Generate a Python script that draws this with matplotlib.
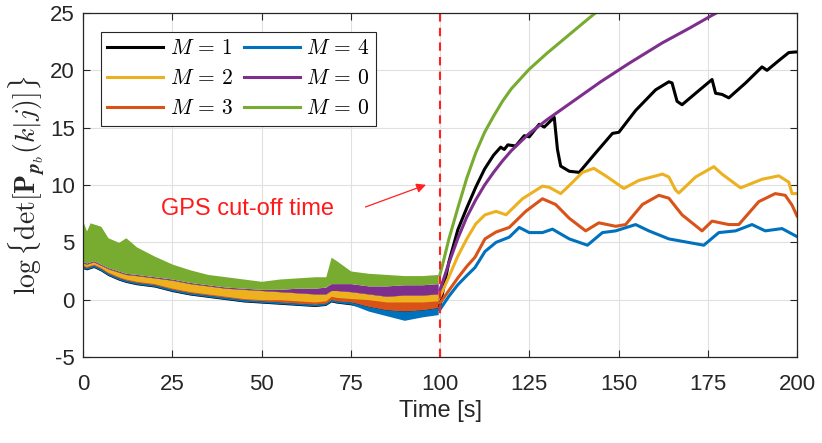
import matplotlib
matplotlib.use("Agg")
import matplotlib.pyplot as plt

# MATLAB default colours
C_BLACK = "#000000"
C_BLUE = "#0072BD"
C_ORANGE = "#D95319"
C_YELLOW = "#EDB120"
C_PURPLE = "#7E2F8E"
C_GREEN = "#77AC30"

# ---- before GPS cut-off: noisy bands, read as lower / upper envelopes ----
t_pre = [0, 1, 2, 3, 5, 7, 10, 12, 15, 20, 25, 30, 35, 40, 45, 50, 55, 60,
         65, 68, 69.5, 71, 75, 80, 85, 90, 95, 99.5]
green_hi = [6.8, 6.0, 6.7, 6.6, 6.4, 5.4, 5.0, 5.4, 4.6, 3.8, 3.1, 2.6, 2.2, 2.0,
            1.8, 1.6, 1.8, 1.9, 2.0, 2.0, 3.7, 3.4, 2.5, 2.3, 2.2, 2.1, 2.1, 2.2]
green_lo = [3.3, 3.2, 3.3, 3.4, 3.1, 2.8, 2.5, 2.3, 2.2, 2.0, 1.8, 1.5, 1.3, 1.1,
            1.0, 0.9, 0.9, 1.0, 1.0, 1.1, 1.4, 1.4, 1.4, 1.2, 1.2, 1.3, 1.3, 1.4]
purple_lo = [3.2, 3.1, 3.2, 3.3, 3.0, 2.7, 2.4, 2.2, 2.1, 1.9, 1.7, 1.4, 1.2, 1.0,
             0.9, 0.8, 0.7, 0.6, 0.5, 0.5, 0.8, 0.8, 0.7, 0.5, 0.3, 0.4, 0.4, 0.5]
yellow_lo = [3.0, 2.9, 3.0, 3.1, 2.8, 2.4, 2.0, 1.8, 1.6, 1.4, 1.0, 0.7, 0.5, 0.3,
             0.1, 0.0, 0.0, -0.1, -0.2, -0.1, 0.3, 0.2, 0.1, 0.0, -0.2, -0.2, -0.2, -0.1]
orange_lo = [2.9, 2.8, 2.9, 3.0, 2.7, 2.3, 1.9, 1.7, 1.5, 1.3, 0.9, 0.6, 0.4, 0.2,
             0.0, -0.1, -0.2, -0.3, -0.4, -0.3, 0.0, -0.1, -0.2, -0.4, -0.7, -0.6, -0.6, -0.5]
blue_hi = [2.9, 2.8, 2.9, 3.0, 2.7, 2.3, 1.9, 1.7, 1.5, 1.3, 0.9, 0.6, 0.4, 0.2,
           0.0, -0.1, -0.2, -0.3, -0.4, -0.3, 0.0, -0.1, -0.2, -0.6, -0.9, -1.0, -0.9, -0.7]
blue_lo = [2.75, 2.65, 2.75, 2.85, 2.55, 2.15, 1.75, 1.55, 1.35, 1.15, 0.75, 0.45, 0.25, 0.05,
           -0.15, -0.25, -0.35, -0.45, -0.55, -0.45, -0.15, -0.25, -0.4, -1.0, -1.4, -1.8, -1.5, -1.3]
black_lo = [2.7, 2.6, 2.7, 2.8, 2.5, 2.1, 1.7, 1.5, 1.3, 1.1, 0.7, 0.4, 0.2, 0.0,
            -0.2, -0.3, -0.4, -0.5, -0.6, -0.5, -0.2, -0.3, -0.45, -0.8, -1.1, -1.2, -1.1, -0.9]

# ---- after GPS cut-off ----
t_m1 = [100, 101, 102.5, 105, 107.5, 110, 112.5, 115, 117, 118, 119, 121.2, 123.6,
        125, 127.8, 129.2, 132, 132.9, 133.8, 136.2, 139, 143.6, 148.3, 150.1, 154.8,
        160.4, 164.1, 165, 166.4, 167.8, 171.6, 176.2, 177.2, 179, 180.9, 185.6,
        190.2, 191.6, 194.9, 197.7, 199.5, 200]
m1 = [-0.5, 1.0, 3.3, 6.1, 8.0, 9.8, 11.4, 12.6, 13.3, 13.1, 13.5, 13.4, 14.3,
      14.2, 15.3, 15.05, 15.9, 13.1, 11.65, 11.2, 11.1, 12.8, 14.5, 14.6, 16.5,
      18.3, 19.0, 18.9, 17.3, 17.0, 18.0, 19.2, 18.0, 17.9, 17.6, 18.9,
      20.3, 20.0, 20.85, 21.55, 21.6, 21.6]

t_m2 = [100, 102.5, 105, 107.5, 110, 112.6, 115.7, 118.5, 123.1, 128.7, 130.6,
        133.8, 136.2, 139.9, 143.1, 146.4, 151.5, 155.7, 162.3, 164.1, 166, 166.9,
        171.6, 176.7, 179, 184.2, 190.2, 194.9, 197.7, 198.6, 200]
m2 = [0.25, 2.0, 3.8, 5.3, 6.6, 7.4, 7.7, 7.4, 8.8, 9.9, 9.8,
      9.25, 9.95, 11.1, 11.45, 10.8, 9.7, 10.4, 10.95, 10.7, 9.55, 9.3,
      10.7, 11.6, 10.95, 9.75, 10.5, 10.8, 10.25, 9.25, 9.25]

t_m3 = [100, 102.5, 105, 107.5, 109.8, 112.6, 115.7, 119.4, 124, 128.7, 132.4,
        136.2, 140.8, 144.5, 149.2, 152, 156.7, 161.3, 164.1, 167.8, 173.4, 176.2,
        180.9, 183.7, 189.3, 193.9, 196.7, 198.6, 200]
m3 = [-0.3, 0.8, 1.9, 2.9, 3.7, 5.3, 5.9, 6.3, 7.7, 8.8, 8.3,
      7.1, 6.0, 6.7, 6.4, 6.55, 8.3, 9.1, 8.85, 7.4, 6.0, 6.85,
      6.55, 6.55, 8.55, 9.25, 9.1, 8.25, 7.3]

t_m4 = [100, 102.5, 105, 107.5, 109.8, 112.6, 115.7, 119.4, 122.2, 125, 128.7,
        131.5, 136.2, 141.3, 145.5, 149.2, 154.8, 158.5, 164.1, 173.9, 178.1,
        182.8, 187.4, 191.1, 195.8, 200]
m4 = [-0.85, 0.3, 1.3, 2.1, 2.8, 4.2, 5.0, 5.45, 6.3, 5.85, 5.85,
      6.15, 5.3, 4.75, 5.85, 6.0, 6.55, 6.0, 5.3, 4.75, 5.85,
      6.0, 6.55, 6.0, 6.2, 5.5]

t_m0a = [100, 102.5, 105, 107.5, 110, 112.5, 115, 117.5, 120, 125, 130, 135,
         140, 145, 152.9, 162.3, 170, 176.2, 178]
m0a = [0.85, 3.2, 5.35, 7.2, 8.7, 10.0, 11.1, 12.1, 13.0, 14.5, 15.7, 16.8,
       17.9, 19.0, 20.6, 22.4, 23.7, 24.8, 25.1]

t_m0b = [100, 101, 102.5, 105, 107.5, 110, 112.5, 115, 117.5, 120, 125, 130,
         135, 140, 143.5]
m0b = [2.2, 3.4, 5.3, 8.0, 10.6, 12.8, 14.6, 16.0, 17.3, 18.4, 20.1, 21.5,
       22.8, 24.1, 25.0]

labels = [r"$M\,=\,1$", r"$M\,=\,2$", r"$M\,=\,3$",
          r"$M\,=\,4$", r"$M\,=\,0$", r"$M\,=\,0$"]
xticks = [0, 25, 50, 75, 100, 125, 150, 175, 200]
yticks = [-5, 0, 5, 10, 15, 20, 25]

plt.rcParams["font.family"] = ["Liberation Sans", "DejaVu Sans"]
plt.rcParams["mathtext.fontset"] = "cm"
plt.rcParams["axes.unicode_minus"] = False

fig = plt.figure(figsize=(8.22, 4.43), dpi=100)
ax = fig.add_axes([83 / 822, 86 / 443, 714 / 822, 344 / 443])

lw = 2.2
# noisy bands before cut-off, drawn in plotting order
ax.fill_between(t_pre, black_lo, purple_lo, color=C_BLACK, lw=0)
ax.fill_between(t_pre, orange_lo, purple_lo, color=C_YELLOW, lw=0)
ax.fill_between(t_pre, blue_hi, yellow_lo, color=C_ORANGE, lw=0)
ax.fill_between(t_pre, blue_lo, blue_hi, color=C_BLUE, lw=0)
ax.fill_between(t_pre, purple_lo, green_lo, color=C_PURPLE, lw=0)
ax.fill_between(t_pre, green_lo, green_hi, color=C_GREEN, lw=0)

h1, = ax.plot(t_m1, m1, color=C_BLACK, lw=lw)
h2, = ax.plot(t_m2, m2, color=C_YELLOW, lw=lw)
h3, = ax.plot(t_m3, m3, color=C_ORANGE, lw=lw)
h4, = ax.plot(t_m4, m4, color=C_BLUE, lw=lw)
h5, = ax.plot(t_m0a, m0a, color=C_PURPLE, lw=lw)
h6, = ax.plot(t_m0b, m0b, color=C_GREEN, lw=lw)

ax.axvline(100, color="#FF2020", lw=1.5, ls=(0, (4, 3)))
ax.annotate("", xy=(96.8, 10.1), xytext=(78.4, 8.0),
            arrowprops=dict(arrowstyle="-|>", color="#FF2020", lw=0.9,
                            mutation_scale=14))
ax.text(46.0, 7.9, "GPS cut-off time", color="#FF1A1A", fontsize=17,
        ha="center", va="center")

ax.set_xlim(0, 200)
ax.set_ylim(-5, 25)
ax.set_xticks(xticks)
ax.set_yticks(yticks)
ax.grid(True, color="#E0E0E0", lw=0.8)
ax.set_axisbelow(True)
ax.tick_params(direction="in", top=True, right=True, labelsize=16,
               colors="#262626", length=5, width=0.8, pad=6)
ax.tick_params(axis="x", pad=12)
for s in ax.spines.values():
    s.set_color("#262626")
    s.set_linewidth(0.9)

ax.set_xlabel("Time [s]", fontsize=17, color="#262626", labelpad=4)
ax.set_ylabel(r"$\log\{\det[\mathbf{P}_{\boldsymbol{p}_b}(k|j)]\}$",
              fontsize=20, color="#262626", labelpad=2)

leg = ax.legend([h1, h2, h3, h4, h5, h6], labels, ncol=2, loc="upper left",
                bbox_to_anchor=(0.025, 0.945), fontsize=15.5, handlelength=2.6,
                columnspacing=0.5, handletextpad=0.3, labelspacing=0.42,
                borderpad=0.3, borderaxespad=0, fancybox=False, framealpha=1)
leg.get_frame().set_edgecolor("#262626")
leg.get_frame().set_linewidth(0.8)

fig.savefig("out.png", dpi=100)
